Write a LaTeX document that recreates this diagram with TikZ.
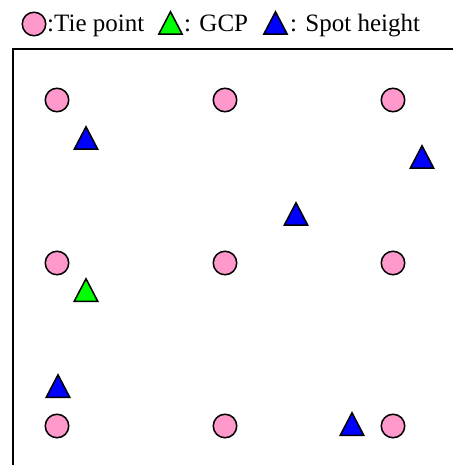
\documentclass[tikz,border=0pt]{standalone}
\usepackage{fontspec}
\setmainfont{Liberation Serif}
\usetikzlibrary{shapes.geometric}
\definecolor{tiepink}{RGB}{255,153,204}
\tikzset{
  tiept/.style={circle, draw, line width=1.5pt, fill=tiepink, minimum size=23.5pt, inner sep=0pt},
  mark tri/.style={isosceles triangle, isosceles triangle stretches, shape border rotate=90,
    draw, line width=1.5pt, minimum width=23.5pt, minimum height=22.5pt, inner sep=0pt, anchor=south},
  gcp/.style={mark tri, fill=green},
  spot/.style={mark tri, fill=blue},
  legtext/.style={font=\fontsize{25}{30}\selectfont, inner sep=0pt, anchor=base west}
}
\begin{document}
\begin{tikzpicture}[x=1pt,y=-1pt]
    \useasboundingbox (0,0) rectangle (453,465);
    % legend (triangles placed by the middle of their base)
    \node [tiept] (LegTie) at (34,24) {};
    \node [legtext] (LegTieText) at (47,32) {:Tie point};
    \node [gcp] (LegGCP) at (170.5,35) {};
    \node [legtext] (LegGCPText) at (184,32) {: GCP};
    \node [spot] (LegSpot) at (275.5,35) {};
    \node [legtext] (LegSpotText) at (290,32) {: Spot height};

    % frame
    \draw [line width=1.8pt] (13,465) |- (453,49);

    % tie points
    \foreach \row/\y in {1/100,2/263,3/426}{
      \foreach \col/\x in {1/57,2/225,3/393}{
        \node [tiept] (Tie\row\col) at (\x,\y) {};
      }
    }

    % GCP and spot heights
    \node [gcp] (GCP) at (86,302) {};
    \node [spot] (SpotA) at (86,150) {};
    \node [spot] (SpotB) at (422,169) {};
    \node [spot] (SpotC) at (296,226) {};
    \node [spot] (SpotD) at (58,398) {};
    \node [spot] (SpotE) at (352,436) {};
\end{tikzpicture}
\end{document}
